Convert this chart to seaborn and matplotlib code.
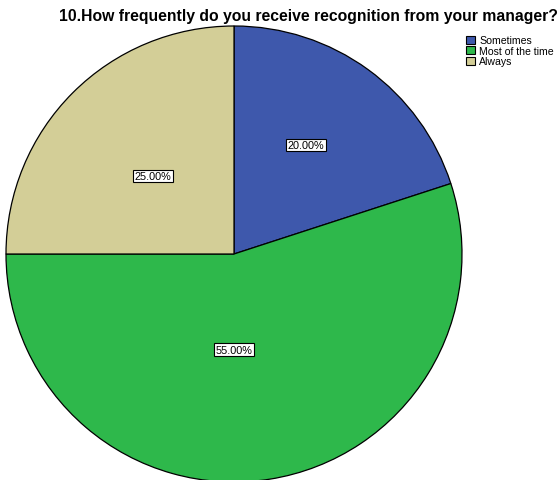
import matplotlib
matplotlib.use("Agg")
import matplotlib.pyplot as plt
from matplotlib.patches import Patch
import seaborn as sns

sns.set_theme(style="white")
plt.rcParams["font.family"] = ["Liberation Sans", "DejaVu Sans"]
plt.rcParams["text.color"] = "black"

categories = ["Sometimes", "Most of the time", "Always"]
percentages = [20.0, 55.0, 25.0]
colors = ["#3e58ac", "#2eb84b", "#d3ce97"]
title = "10.How frequently do you receive recognition from your manager?"

# label placement inside each wedge (radius units, x/y)
label_offsets = [(0.316, 0.478), (0.0, -0.42), (-0.355, 0.342)]

fig = plt.figure(figsize=(5.6, 4.81), dpi=100)
ax = fig.add_axes([6 / 560, -2 / 481, 456 / 560, 456 / 481])

wedges, _texts, autotexts = ax.pie(
    percentages,
    colors=colors,
    startangle=90,
    counterclock=False,
    radius=1.0,
    autopct="%.2f%%",
    wedgeprops=dict(edgecolor="black", linewidth=0.9),
    textprops=dict(fontsize=7.8, color="black"),
)
for t, (dx, dy) in zip(autotexts, label_offsets):
    t.set_position((dx, dy))
    t.set_ha("center")
    t.set_va("center")
    t.set_bbox(dict(facecolor="white", edgecolor="black", linewidth=0.8, pad=1.0))

ax.set_xlim(-1, 1)
ax.set_ylim(-1, 1)
ax.set_aspect("equal")
ax.axis("off")

fig.text(308 / 560, 1 - 16 / 481, title, ha="center", va="center",
         fontsize=11.3, fontweight="bold", color="black")

handles = [Patch(facecolor=c, edgecolor="black", linewidth=0.8) for c in colors]
fig.legend(handles, categories, loc="upper left",
           bbox_to_anchor=(459 / 560, 1 - 29 / 481), frameon=False,
           fontsize=7.6, handlelength=0.85, handleheight=0.85,
           handletextpad=0.35, labelspacing=0.05, borderpad=0.2)

fig.savefig("out.png", dpi=100)
